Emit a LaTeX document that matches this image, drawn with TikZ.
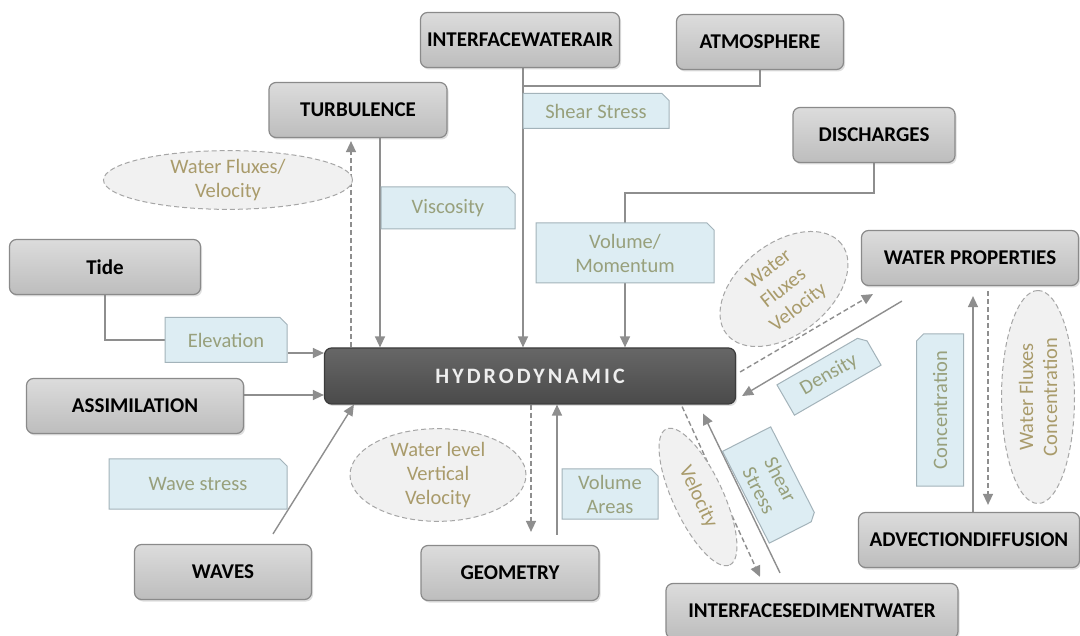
\documentclass[tikz,border=0pt]{standalone}
\usepackage{fontspec}
\setmainfont{Carlito}
\usepackage{xcolor}
\usepackage{tikz}
\usetikzlibrary{arrows.meta,shapes.misc,shapes.geometric,shadows,backgrounds}
\definecolor{BoxTop}{HTML}{DCDCDC}
\definecolor{BoxBot}{HTML}{BDBDBD}
\definecolor{BoxEdge}{HTML}{8A8A8A}
\definecolor{CoreTop}{HTML}{676767}
\definecolor{CoreBot}{HTML}{4A4A4A}
\definecolor{CoreEdge}{HTML}{3C3C3C}
\definecolor{CoreText}{HTML}{EEEEEE}
\definecolor{TagFill}{HTML}{DDEDF3}
\definecolor{TagEdge}{HTML}{A3B3BA}
\definecolor{TagText}{HTML}{98A07C}
\definecolor{BubFill}{HTML}{F1F1F1}
\definecolor{BubEdge}{HTML}{A6A6A6}
\definecolor{BubText}{HTML}{A99B6B}
\definecolor{LinkGrey}{HTML}{8E8E8E}
\newcommand\blockfont{\fontsize{21}{23}\selectfont\bfseries}
\newcommand\corefont{\fontsize{22}{24}\selectfont\bfseries\addfontfeature{LetterSpace=14}}
\newcommand\tagfont{\fontsize{20.5}{24}\selectfont}

\begin{document}
\begin{tikzpicture}[
  x=1pt,y=-1pt,
  block/.style={rectangle,rounded corners=7pt,draw=BoxEdge,line width=1.2pt,top color=BoxTop,bottom color=BoxBot,
    minimum height=55pt,inner sep=0pt,font=\blockfont,text=black,
    drop shadow={opacity=.25,shadow xshift=1.5pt,shadow yshift=-2pt}},
  core/.style={block,top color=CoreTop,bottom color=CoreBot,draw=CoreEdge,text=CoreText,font=\corefont},
  tag/.style={chamfered rectangle,chamfered rectangle corners=north east,chamfered rectangle xsep=3.5pt,
    chamfered rectangle ysep=3.5pt,draw=TagEdge,fill=TagFill,line width=1pt,text=TagText,font=\tagfont,
    align=center,inner sep=0pt},
  bubble/.style={ellipse,draw=BubEdge,dash pattern=on 5pt off 3pt,line width=1pt,fill=BubFill,text=BubText,
    font=\tagfont,align=center,inner sep=0pt},
  link/.style={draw=LinkGrey,line width=1.4pt},
  arr/.style={link,-{Triangle[length=11pt,width=10pt]}},
  darr/.style={arr,dash pattern=on 5pt off 3pt}
]
\useasboundingbox (0,0) rectangle (1080,636);
\begin{scope}[on background layer]
  \fill[white] (0,0) rectangle (1080,636);
\end{scope}

\foreach \nm/\x/\y/\w/\txt in {
  iwa/520/40/199/INTERFACEWATERAIR,
  atm/760/42/167/ATMOSPHERE,
  turb/358/110/178/TURBULENCE,
  disc/874/135/162/DISCHARGES,
  tide/105/267/191/Tide,
  wprop/970/258/217/WATER PROPERTIES,
  assim/135/406/217/ASSIMILATION,
  waves/223/572/177/WAVES,
  geom/510/573/178/GEOMETRY,
  adv/969/540/221/ADVECTIONDIFFUSION,
  isw/812/611/292/INTERFACESEDIMENTWATER}
  \node[block,minimum width=\w pt] (\nm) at (\x,\y) {\txt};
\node[core,minimum width=411pt,minimum height=56pt] (hydro) at (530,376) {HYDRODYNAMIC};

\foreach \nm/\x/\y/\w/\h/\r/\txt in {
  tshear/596/111/146/35/0/Shear Stress,
  tvisc/448/208/134/42/0/Viscosity,
  tvolmom/625/253/178/60/0/{Volume/\\Momentum},
  telev/226/340/122/45/0/Elevation,
  twave/198/484/178/50/0/Wave stress,
  tvolar/610/494/96/50/0/{Volume\\Areas},
  tdens/829/375/100/35/30/Density,
  tsed/770/485/103/54/-63/{Shear\\Stress},
  tconc/940/410/152/47/90/Concentration}
  \node[tag,minimum width=\w pt,minimum height=\h pt,rotate=\r] (\nm) at (\x,\y) {\txt};

\foreach \nm/\x/\y/\w/\h/\r/\txt in {
  bturb/228/180/249/56/0/{Water Fluxes/\\Velocity},
  bwprop/784/289/146/70/38/{Water\\Fluxes\\Velocity},
  bgeom/438/475/176/91/0/{Water level\\Vertical\\Velocity},
  bsed/698/497/150/50/-65/Velocity,
  badv/1038/397/213/73/90/{Water Fluxes\\Concentration}}
  \node[bubble,minimum width=\w pt,minimum height=\h pt,rotate=\r] (\nm) at (\x,\y) {\txt};

\begin{scope}[on background layer]
  \draw[arr] ([xshift=3pt]iwa.south) -- ([xshift=3pt]iwa.south |- hydro.north);
  \draw[link] (atm.south) |- ([xshift=3pt,yshift=-18pt]iwa.south);
  \draw[darr] ([xshift=-7pt]turb.south |- hydro.north) -- ([xshift=-7pt,yshift=-3pt]turb.south);
  \draw[arr] ([xshift=22pt]turb.south) -- ([xshift=22pt]turb.south |- hydro.north);
  \draw[arr] (disc.south) -- ++(0,30) -| (tvolmom.south |- hydro.north);
  \draw[link] (tide.south) |- (telev.west);
  \draw[arr] ([yshift=-13pt]telev.east) -- ([yshift=-13pt]telev.east -| hydro.west);
  \draw[arr] ([yshift=11pt]assim.east) -- ([yshift=11pt]assim.east -| hydro.west);
  \draw[arr] ([xshift=50pt,yshift=10pt]waves.north) -- ([xshift=30pt]hydro.south west);
  \draw[darr] ([xshift=4pt,yshift=4pt]hydro.east) -- ([xshift=12pt,yshift=-8pt]wprop.south west);
  \draw[arr] ([xshift=41pt,yshift=-15pt]wprop.south west) -- ([xshift=6pt,yshift=-20pt]hydro.east);
  \draw[darr] ([xshift=21pt]geom.north |- hydro.south) -- ([xshift=21pt,yshift=13pt]geom.north);
  \draw[arr] ([xshift=47pt,yshift=10pt]geom.north) -- ([xshift=47pt]geom.north |- hydro.south);
  \draw[darr] ([xshift=-54pt,yshift=-2pt]hydro.south east) -- ([xshift=-52pt,yshift=6pt]isw.north);
  \draw[arr] ([xshift=-32pt,yshift=10pt]isw.north) -- ([xshift=-33pt,yshift=-9pt]hydro.south east);
  \draw[arr] ([xshift=4pt]adv.north) -- ([xshift=4pt,yshift=-10pt]adv.north |- wprop.south);
  \draw[darr] ([xshift=18pt,yshift=-5pt]wprop.south) -- ([xshift=18pt,yshift=7pt]wprop.south |- adv.north);
\end{scope}
\end{tikzpicture}
\end{document}
